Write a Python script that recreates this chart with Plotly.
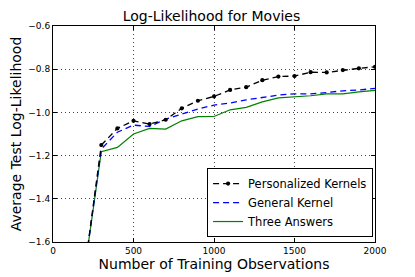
import plotly.graph_objects as go

x_obs = [200, 300, 400, 500, 600, 700, 800, 900, 1000, 1100, 1200, 1300, 1400, 1500, 1600, 1700, 1800, 1900, 2000]
personalized = [-1.71, -1.151, -1.074, -1.039, -1.054, -1.034, -0.981, -0.946, -0.926, -0.896, -0.883, -0.851, -0.834, -0.832, -0.814, -0.815, -0.804, -0.796, -0.789]
general = [-1.71, -1.17, -1.092, -1.059, -1.065, -1.031, -1.008, -0.985, -0.966, -0.957, -0.942, -0.931, -0.920, -0.914, -0.914, -0.908, -0.900, -0.896, -0.889]
three = [-1.71, -1.182, -1.162, -1.100, -1.074, -1.077, -1.039, -1.020, -1.019, -0.988, -0.977, -0.951, -0.933, -0.929, -0.923, -0.914, -0.914, -0.905, -0.898]

x_ticks = [0, 500, 1000, 1500, 2000]
y_ticks = [-1.6, -1.4, -1.2, -1.0, -0.8, -0.6]
y_tick_text = ["\u22121.6", "\u22121.4", "\u22121.2", "\u22121.0", "\u22120.8", "\u22120.6"]

fig = go.Figure()
fig.add_trace(go.Scatter(x=x_obs, y=three, mode="lines", name="Three Answers",
                         line=dict(color="#008000", width=1.2), legendrank=3))
fig.add_trace(go.Scatter(x=x_obs, y=general, mode="lines", name="General Kernel",
                         line=dict(color="blue", dash="6px,4px", width=1.3), legendrank=2))
fig.add_trace(go.Scatter(x=x_obs[:2], y=personalized[:2], mode="lines",
                         line=dict(color="black", dash="6px,4px", width=1.3),
                         showlegend=False, hoverinfo="skip"))
fig.add_trace(go.Scatter(x=x_obs[1:], y=personalized[1:], mode="lines+markers",
                         name="Personalized Kernels",
                         line=dict(color="black", dash="6px,4px", width=1.3),
                         marker=dict(color="black", size=4.2), legendrank=1))

font = "DejaVu Sans"
fig.update_layout(
    width=407, height=269,
    margin=dict(l=45, r=40, t=18, b=35),
    paper_bgcolor="white", plot_bgcolor="white",
    font=dict(family=font, color="black"),
    title=dict(text="Log-Likelihood for Movies", x=0.5, xanchor="center",
               y=1, yref="container", yanchor="top", pad=dict(t=3),
               font=dict(size=14, family=font)),
    showlegend=True,
    legend=dict(x=0.994, y=0.023, xanchor="right", yanchor="bottom",
                bordercolor="black", borderwidth=1, bgcolor="white",
                font=dict(size=11.5, family=font), tracegroupgap=0,
                itemwidth=30, traceorder="normal"),
)
fig.update_xaxes(range=[0, 2000], tickvals=x_ticks, ticktext=[str(v) for v in x_ticks],
                 ticks="inside", ticklen=4, tickcolor="black", automargin=False,
                 showline=True, linecolor="black", linewidth=1, mirror="ticks",
                 showgrid=True, gridcolor="#444", griddash="1px,3px", gridwidth=1,
                 zeroline=False, tickfont=dict(size=9, family=font),
                 title=dict(text="Number of Training Observations", font=dict(size=14, family=font), standoff=2))
fig.update_yaxes(range=[-1.6, -0.6], tickvals=y_ticks, ticktext=y_tick_text,
                 ticks="inside", ticklen=4, tickcolor="black", automargin=False,
                 showline=True, linecolor="black", linewidth=1, mirror="ticks",
                 showgrid=True, gridcolor="#444", griddash="1px,3px", gridwidth=1,
                 zeroline=False, tickfont=dict(size=9, family=font),
                 title=dict(text="Average Test Log-Likelihood", font=dict(size=14, family=font), standoff=8))

fig.write_html("out.html")
